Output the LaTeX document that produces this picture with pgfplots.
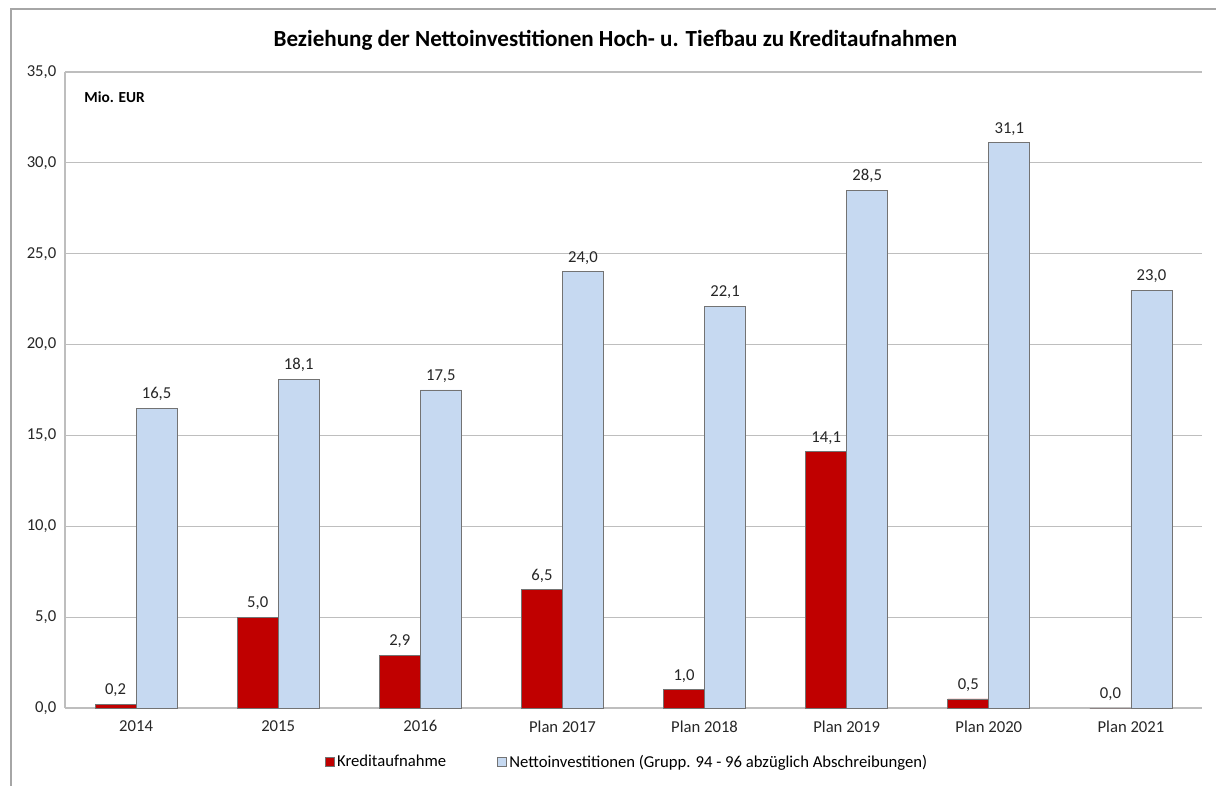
\documentclass[border=0pt]{standalone}
\usepackage{pgfplots}
\pgfplotsset{compat=1.18}
\usepackage{fontspec}
\setmainfont{Carlito}
\definecolor{kred}{RGB}{192,0,0}
\definecolor{kblue}{RGB}{198,217,241}
\definecolor{gridg}{RGB}{190,190,190}
\begin{document}
\begin{tikzpicture}[x=1pt,y=1pt]
\useasboundingbox (0,0) rectangle (912,588.75);
\draw[black!35, line width=1.2pt] (8.25,-5) -- (8.25,582) -- (920,582);
\node[font=\bfseries\fontsize{17.3}{20}\selectfont] at (461.5,558.5) {Beziehung der Nettoinvestitionen Hoch- u. Tiefbau zu Kreditaufnahmen};
\begin{axis}[
  at={(48.75pt,57.75pt)}, anchor=south west,
  scale only axis, width=852.75pt, height=477pt,
  ybar=0pt, bar width=30.75pt,
  xmin=-0.5, xmax=7.5, ymin=0, ymax=35,
  xtick={0,...,7},
  xticklabels={2014,2015,2016,Plan 2017,Plan 2018,Plan 2019,Plan 2020,Plan 2021},
  ytick={0,5,...,35},
  major tick length=0pt,
  ymajorgrids, grid style={gridg, line width=0.8pt},
  axis x line*=bottom, axis y line*=left,
  axis line style={gridg, line width=0.8pt, -},
  tick label style={font=\fontsize{12.5}{15}\selectfont, black!85},
  xticklabel style={yshift=-6pt},
  yticklabel style={xshift=-3pt},
  /pgf/number format/.cd, use comma, fixed, fixed zerofill, precision=1, assume math mode=true,
  /pgfplots/.cd,
  nodes near coords,
  nodes near coords style={font=\fontsize{12.5}{15}\selectfont, black!85, yshift=2pt},
  legend columns=2,
  legend style={at={(0.4945,-0.085)}, anchor=center, draw=none, fill=none,
    font=\fontsize{12.5}{15}\selectfont, /tikz/every even column/.append style={column sep=36pt}},
  legend image code/.code={\draw[#1] (0pt,-3.4pt) rectangle (6.8pt,3.4pt);},
  clip=false,
]
\addplot[fill=kred, draw=black!55, line width=0.6pt] coordinates {(0,0.2) (1,5.0) (2,2.9) (3,6.5) (4,1.0) (5,14.1) (6,0.5) (7,0.0)};
\addplot[fill=kblue, draw=black!55, line width=0.6pt] coordinates {(0,16.5) (1,18.1) (2,17.5) (3,24.0) (4,22.1) (5,28.5) (6,31.1) (7,23.0)};
\legend{Kreditaufnahme, Nettoinvestitionen (Grupp. 94 - 96 abzüglich Abschreibungen)}
\node[anchor=west, font=\bfseries\fontsize{11.5}{14}\selectfont] at (rel axis cs:0.013,0.96) {Mio. EUR};
\end{axis}
\end{tikzpicture}
\end{document}
